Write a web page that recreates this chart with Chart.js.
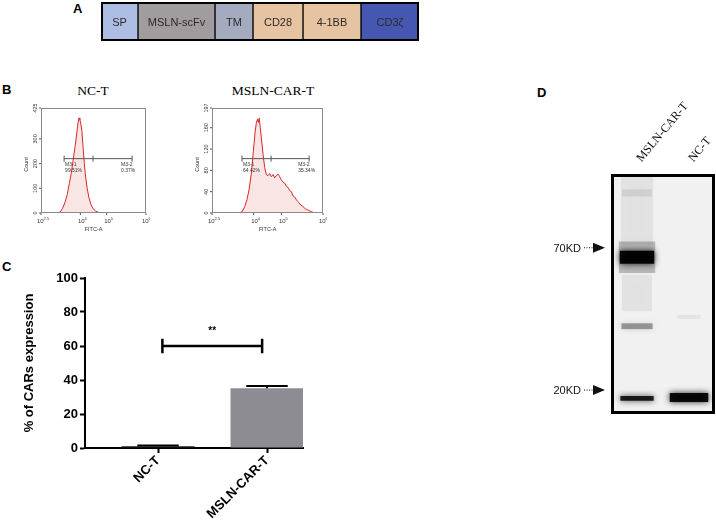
<!DOCTYPE html>
<html lang="en">
<head>
<meta charset="UTF-8">
<title>MSLN-CAR-T construct and CAR expression</title>
<script src="https://cdn.jsdelivr.net/npm/chart.js"></script>
<style>
  body { margin: 0; background: #fff; font-family: 'Liberation Sans', Arial, sans-serif; }
  .fig { position: relative; width: 716px; height: 521px; overflow: hidden; }
  .fig canvas { position: absolute; }
  .tag { position: absolute; font: bold 13px 'Liberation Sans', Arial, sans-serif; line-height: 14px; }
  .ttl { position: absolute; font: 13.5px 'Liberation Serif', 'Times New Roman', serif; line-height: 14px; text-align: center; }
</style>
</head>
<body>
<div class="fig">
  <div class="tag" style="left:73px;top:2px">A</div>
  <div class="tag" style="left:2px;top:83px">B</div>
  <div class="tag" style="left:2px;top:260px">C</div>
  <div class="tag" style="left:537px;top:86px">D</div>
  <div class="ttl" style="left:43px;top:84px;width:100px">NC-T</div>
  <div class="ttl" style="left:218px;top:84px;width:110px">MSLN-CAR-T</div>
  <canvas id="construct" width="320" height="41" style="left:100px;top:1px"></canvas>
  <canvas id="flowNC" width="132" height="130" style="left:18px;top:104px"></canvas>
  <canvas id="flowCAR" width="138" height="130" style="left:189px;top:104px"></canvas>
  <canvas id="barChart" width="305" height="256" style="left:0;top:265px"></canvas>
  <canvas id="blot" width="171" height="341" style="left:545px;top:80px"></canvas>
</div>

<script>
  // A: CAR construct segments
  const segNames = ['SP', 'MSLN-scFv', 'TM', 'CD28', '4-1BB', 'CD3ζ'];
  const segLens = [37, 77, 38, 50, 58, 58];
  const segColors = ['#aebde3', '#a19d9f', '#a4abbf', '#e7c4a1', '#e7c4a1', '#4557b1'];

  // B: flow histograms (x in log10 FITC-A)
  const logTicks = [2.5, 4, 5, 6.5];
  const ncLogX = [3.10, 3.22, 3.32, 3.42, 3.50, 3.58, 3.65, 3.72, 3.80, 3.86, 3.91, 3.95, 3.98, 4.02, 4.06, 4.10, 4.15, 4.20, 4.26, 4.32, 4.40, 4.48, 4.58, 4.68, 4.78];
  const ncCount = [0, 3, 18, 45, 75, 120, 160, 210, 270, 320, 365, 385, 378, 360, 330, 270, 200, 145, 100, 65, 35, 18, 8, 3, 0];
  const ncYTicks = [0, 100, 200, 300, 425];
  const ncGate = [3.38, 4.48, 5.97];
  const ncGateLevel = 220;
  const ncGateText = [['M3-1', '99.51%'], ['M3-2', '0.37%']];

  const carLogX = [3.45, 3.58, 3.68, 3.76, 3.84, 3.92, 3.99, 4.05, 4.10, 4.14, 4.17, 4.20, 4.24, 4.29, 4.34, 4.40, 4.46, 4.52, 4.58, 4.64, 4.70, 4.76, 4.82, 4.88, 4.94, 5.00, 5.06, 5.12, 5.18, 5.24, 5.30, 5.36, 5.42, 5.48, 5.55, 5.62, 5.70, 5.78, 5.86, 5.94, 6.02, 6.10, 6.20];
  const carCount = [0, 2, 12, 25, 45, 75, 115, 150, 170, 176, 170, 178, 160, 135, 110, 85, 72, 70, 74, 68, 72, 66, 70, 73, 68, 62, 58, 56, 50, 48, 42, 40, 32, 30, 24, 20, 15, 12, 8, 6, 4, 2, 0];
  const carYTicks = [0, 40, 80, 120, 160, 197];
  const carGate = [3.58, 4.63, 6.0];
  const carGateLevel = 102;
  const carGateText = [['M3-1', '64.42%'], ['M3-2', '35.34%']];

  // C: % of CARs expression
  const groups = ['NC-T', 'MSLN-CAR-T'];
  const carPct = [1.0, 35.2];
  const carErr = [0.5, 1.3];
  const sigLevel = 60;
  const sigText = '**';

  // D: western blot
  const lanes = ['MSLN-CAR-T', 'NC-T'];
  const markerKD = [70, 20];
  const markerText = ['70KD', '20KD'];
  const bandLane  = [0, 0, 0, 0, 0, 0, 0, 1, 1];
  const bandLo    = [72, 110, 56, 60.8, 40, 34.2, 18.2, 37.4, 18.0];
  const bandHi    = [132, 117, 74, 68.2, 55, 36.0, 19.0, 38.8, 19.5];
  const bandShade = ['rgba(0,0,0,0.06)', 'rgba(0,0,0,0.08)', 'rgba(0,0,0,0.22)', 'rgba(0,0,0,0.92)', 'rgba(0,0,0,0.06)', 'rgba(0,0,0,0.35)', 'rgba(0,0,0,0.85)', 'rgba(0,0,0,0.05)', 'rgba(0,0,0,0.92)'];
  const bandWidth = [0.62, 0.58, 0.7, 0.66, 0.58, 0.6, 0.64, 0.45, 0.74];

  Chart.defaults.font.family = "'Liberation Sans', Arial, sans-serif";
  Chart.defaults.animation = false;
  Chart.defaults.plugins.legend.display = false;
  Chart.defaults.plugins.tooltip.enabled = false;

  // ---------- A ----------
  const segLabels = {
    id: 'segLabels',
    afterDatasetsDraw(chart) {
      const { ctx, chartArea: a } = chart;
      ctx.save();
      ctx.font = "11px 'Liberation Sans Narrow', 'Liberation Sans', sans-serif";
      ctx.fillStyle = '#2b2b2b';
      ctx.textAlign = 'center';
      ctx.textBaseline = 'middle';
      chart.data.datasets.forEach((ds, i) => {
        const c = chart.getDatasetMeta(i).data[0].getCenterPoint();
        ctx.fillText(ds.label, c.x, c.y + 1);
      });
      ctx.lineWidth = 2;
      ctx.strokeStyle = '#000';
      ctx.strokeRect(a.left + 1, a.top + 1, a.width - 2, a.height - 2);
      ctx.restore();
    }
  };
  new Chart(document.getElementById('construct'), {
    type: 'bar',
    data: {
      labels: [''],
      datasets: segNames.map((n, i) => ({
        label: n, data: [segLens[i]], backgroundColor: segColors[i],
        borderColor: '#000', borderWidth: 1, borderSkipped: false,
        barPercentage: 1, categoryPercentage: 1
      }))
    },
    options: {
      indexAxis: 'y', responsive: false, devicePixelRatio: 1,
      layout: { padding: 1 },
      scales: {
        x: { stacked: true, display: false, min: 0, max: segLens.reduce((s, v) => s + v, 0) },
        y: { stacked: true, display: false }
      }
    },
    plugins: [segLabels]
  });

  // ---------- B ----------
  const flowDecor = {
    id: 'flowDecor',
    afterDraw(chart, args, o) {
      const { ctx, chartArea: a, scales: { x, y } } = chart;
      ctx.save();
      ctx.strokeStyle = '#8a8a8a';
      ctx.lineWidth = 1;
      ctx.strokeRect(a.left + 0.5, a.top + 0.5, a.width - 1, a.height - 1);
      ctx.fillStyle = '#333';
      ctx.strokeStyle = '#555';
      ctx.textAlign = 'center';
      ctx.textBaseline = 'middle';
      ctx.font = "5.5px 'Liberation Sans', sans-serif";
      o.yTicks.forEach(v => {
        const py = y.getPixelForValue(v);
        ctx.save();
        ctx.translate(a.left - 6, py);
        ctx.rotate(-Math.PI / 2);
        ctx.fillText(String(v), 0, 0);
        ctx.restore();
        ctx.beginPath(); ctx.moveTo(a.left - 2, py); ctx.lineTo(a.left, py); ctx.stroke();
      });
      ctx.save();
      ctx.translate(a.left - 15, (a.top + a.bottom) / 2 + 4);
      ctx.rotate(-Math.PI / 2);
      ctx.fillText('Count', 0, 0);
      ctx.restore();
      logTicks.forEach(v => {
        const px = x.getPixelForValue(v);
        const e = String(v);
        ctx.font = "6px 'Liberation Sans', sans-serif";
        const w1 = ctx.measureText('10').width;
        ctx.font = "4px 'Liberation Sans', sans-serif";
        const w2 = ctx.measureText(e).width;
        const x0 = px - (w1 + w2) / 2 + 2;
        ctx.textAlign = 'left';
        ctx.font = "6px 'Liberation Sans', sans-serif";
        ctx.fillText('10', x0, a.bottom + 8);
        ctx.font = "4px 'Liberation Sans', sans-serif";
        ctx.fillText(e, x0 + w1, a.bottom + 6);
        ctx.beginPath(); ctx.moveTo(px, a.bottom); ctx.lineTo(px, a.bottom + 2); ctx.stroke();
      });
      ctx.textAlign = 'center';
      ctx.font = "5.5px 'Liberation Sans', sans-serif";
      ctx.fillText('FITC-A', (a.left + a.right) / 2, a.bottom + 16);
      // gate markers
      const gy = y.getPixelForValue(o.gateLevel);
      const gx = o.gate.map(v => x.getPixelForValue(v));
      ctx.lineWidth = 1;
      ctx.beginPath();
      ctx.moveTo(gx[0], gy); ctx.lineTo(gx[2], gy);
      gx.forEach(p => { ctx.moveTo(p, gy - 3); ctx.lineTo(p, gy + 3); });
      ctx.stroke();
      ctx.textAlign = 'left';
      ctx.font = "5px 'Liberation Sans', sans-serif";
      ctx.fillText(o.gateText[0][0], gx[0] + 1, gy + 6);
      ctx.fillText(o.gateText[0][1], gx[0] + 1, gy + 12);
      ctx.fillText(o.gateText[1][0], gx[2] - 11, gy + 6);
      ctx.fillText(o.gateText[1][1], gx[2] - 11, gy + 12);
      ctx.restore();
    }
  };
  function flowChart(id, xs, ys, yTicks, gate, gateLevel, gateText) {
    return new Chart(document.getElementById(id), {
      type: 'scatter',
      data: {
        datasets: [{
          data: xs.map((v, i) => ({ x: v, y: ys[i] })),
          showLine: true, fill: 'origin', pointRadius: 0, tension: 0,
          borderColor: '#d9252a', borderWidth: 1, backgroundColor: 'rgba(236,160,160,0.28)'
        }]
      },
      options: {
        responsive: false, devicePixelRatio: 1,
        layout: { padding: { left: 0, top: 4, right: 4, bottom: 0 } },
        scales: {
          x: { type: 'linear', min: 2.5, max: 6.5, grid: { display: false }, border: { display: false },
               ticks: { display: false }, afterFit: s => { s.height = 21; } },
          y: { min: 0, max: yTicks[yTicks.length - 1], grid: { display: false }, border: { display: false },
               ticks: { display: false }, afterFit: s => { s.width = 23; } }
        },
        plugins: { flowDecor: { yTicks, gate, gateLevel, gateText } }
      },
      plugins: [flowDecor]
    });
  }
  flowChart('flowNC', ncLogX, ncCount, ncYTicks, ncGate, ncGateLevel, ncGateText);
  flowChart('flowCAR', carLogX, carCount, carYTicks, carGate, carGateLevel, carGateText);

  // ---------- C ----------
  const statDecor = {
    id: 'statDecor',
    afterDatasetsDraw(chart) {
      const { ctx, scales: { x, y } } = chart;
      ctx.save();
      ctx.strokeStyle = '#000';
      ctx.lineWidth = 2;
      carPct.forEach((v, i) => {
        const px = x.getPixelForValue(i);
        const half = x.getPixelForValue(i + 0.19) - px;
        const y0 = y.getPixelForValue(v), y1 = y.getPixelForValue(v + carErr[i]);
        ctx.beginPath();
        ctx.moveTo(px, y0); ctx.lineTo(px, y1);
        ctx.moveTo(px - half, y1); ctx.lineTo(px + half, y1);
        ctx.stroke();
      });
      const xa = x.getPixelForValue(0.04), xb = x.getPixelForValue(0.955);
      const ym = y.getPixelForValue(sigLevel);
      const yt = y.getPixelForValue(sigLevel + 4.2), yb = y.getPixelForValue(sigLevel - 4.2);
      ctx.lineWidth = 2.5;
      ctx.beginPath();
      ctx.moveTo(xa, ym); ctx.lineTo(xb, ym);
      ctx.moveTo(xa, yt); ctx.lineTo(xa, yb);
      ctx.moveTo(xb, yt); ctx.lineTo(xb, yb);
      ctx.stroke();
      ctx.fillStyle = '#000';
      ctx.font = "bold 10px 'Liberation Sans', sans-serif";
      ctx.textAlign = 'center';
      ctx.textBaseline = 'middle';
      ctx.fillText(sigText, (xa + xb) / 2, y.getPixelForValue(sigLevel + 8.5));
      ctx.restore();
    }
  };
  new Chart(document.getElementById('barChart'), {
    type: 'bar',
    data: {
      datasets: [{
        data: carPct.map((v, i) => ({ x: i, y: v })),
        backgroundColor: ['#1e1e1e', '#8d8c92'], borderWidth: 0,
        barPercentage: 0.67, categoryPercentage: 1
      }]
    },
    options: {
      responsive: false, devicePixelRatio: 1,
      layout: { padding: { left: 22, top: 13, right: 2, bottom: 0 } },
      scales: {
        x: {
          type: 'linear', min: -0.67, max: 1.33, offset: false,
          afterBuildTicks: s => { s.ticks = groups.map((g, i) => ({ value: i })); },
          ticks: { callback: v => groups[v], color: '#000', font: { size: 13, weight: 'bold' },
                   minRotation: 45, maxRotation: 45, padding: 0 },
          grid: { drawOnChartArea: false, offset: false, tickLength: 5, tickWidth: 2, tickColor: '#000' },
          border: { color: '#000', width: 2 },
          afterFit: s => { s.height = 73; }
        },
        y: {
          min: 0, max: 100,
          ticks: { stepSize: 20, color: '#000', font: { size: 13, weight: 'bold' }, padding: 2 },
          grid: { drawOnChartArea: false, tickLength: 5, tickWidth: 2, tickColor: '#000' },
          border: { color: '#000', width: 2 },
          title: { display: true, text: '% of CARs expression', color: '#000', font: { size: 13, weight: 'bold' }, padding: 0 },
          afterFit: s => { s.width = 63; }
        }
      }
    },
    plugins: [statDecor]
  });

  // ---------- D ----------
  const blotDecor = {
    id: 'blotDecor',
    beforeDatasetsDraw(chart) {
      const { ctx, chartArea: a } = chart;
      ctx.fillStyle = '#f1f1f1';
      ctx.fillRect(a.left, a.top, a.width, a.height);
    },
    beforeDatasetDraw(chart, args) {
      // soft band edges
      chart.ctx.save();
      chart.ctx.shadowColor = bandShade[args.index];
      chart.ctx.shadowBlur = 6;
    },
    afterDatasetDraw(chart) {
      chart.ctx.restore();
    },
    afterDatasetsDraw(chart) {
      const { ctx, chartArea: a, scales: { y } } = chart;
      ctx.save();
      ctx.lineWidth = 3;
      ctx.strokeStyle = '#000';
      ctx.strokeRect(a.left + 1.5, a.top + 1.5, a.width - 3, a.height - 3);
      ctx.fillStyle = '#111';
      ctx.strokeStyle = '#111';
      ctx.font = "11px 'Liberation Sans', sans-serif";
      ctx.textAlign = 'right';
      ctx.textBaseline = 'middle';
      markerKD.forEach((kd, i) => {
        const py = y.getPixelForValue(kd);
        ctx.fillText(markerText[i], a.left - 30, py + 1);
        ctx.lineWidth = 1;
        ctx.setLineDash([1, 1.5]);
        ctx.beginPath(); ctx.moveTo(a.left - 27, py); ctx.lineTo(a.left - 18, py); ctx.stroke();
        ctx.setLineDash([]);
        ctx.beginPath();
        ctx.moveTo(a.left - 18, py - 5); ctx.lineTo(a.left - 6, py); ctx.lineTo(a.left - 18, py + 5);
        ctx.closePath(); ctx.fill();
      });
      ctx.restore();
    }
  };
  new Chart(document.getElementById('blot'), {
    type: 'bar',
    data: {
      labels: lanes,
      datasets: bandLane.map((ln, i) => ({
        data: lanes.map((_, j) => (j === ln ? [bandLo[i], bandHi[i]] : null)),
        backgroundColor: bandShade[i], borderWidth: 0, grouped: false,
        barPercentage: bandWidth[i], categoryPercentage: 1
      }))
    },
    options: {
      responsive: false, devicePixelRatio: 1,
      layout: { padding: { left: 66, top: 0, right: 1, bottom: 7 } },
      scales: {
        x: {
          position: 'top',
          ticks: { color: '#111', font: { family: "'Liberation Serif', serif", size: 12 }, minRotation: 50, maxRotation: 50, padding: 1, labelOffset: 13 },
          grid: { display: false }, border: { display: false },
          afterFit: s => { s.height = 94; }
        },
        y: { type: 'logarithmic', min: 16.2, max: 134, display: false }
      }
    },
    plugins: [blotDecor]
  });
</script>
</body>
</html>
